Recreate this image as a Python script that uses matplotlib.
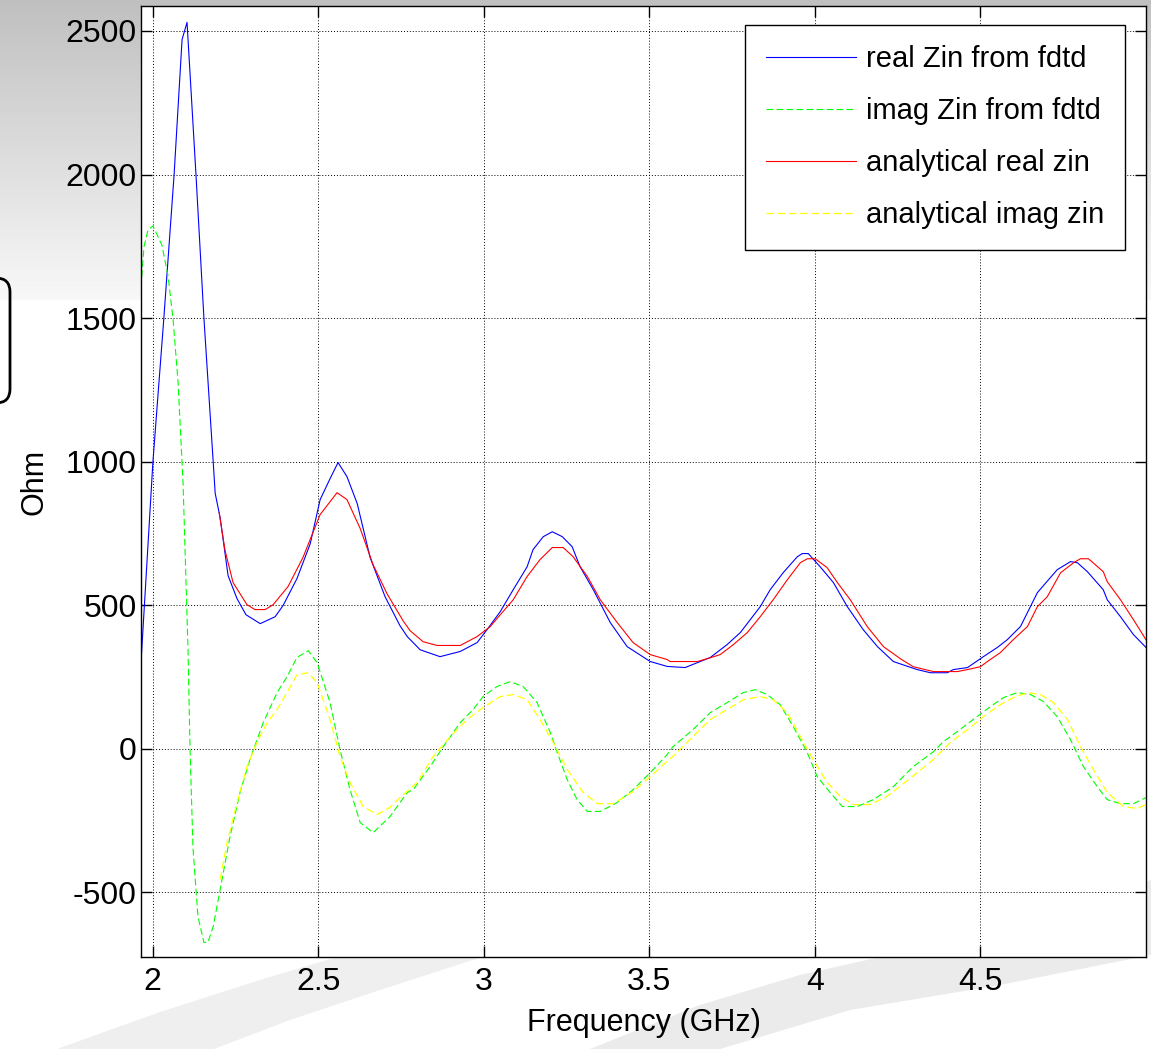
import numpy as np
import matplotlib
matplotlib.use("Agg")
import matplotlib.pyplot as plt
from matplotlib import font_manager
from matplotlib.patches import Polygon, FancyBboxPatch

# --- data (GHz, Ohm) ---
f_real_fdtd = [1.965, 2.001, 2.034, 2.065, 2.089, 2.104, 2.131, 2.155, 2.183, 2.189,
               2.204, 2.228, 2.255, 2.282, 2.325, 2.370, 2.394, 2.436, 2.476, 2.506,
               2.536, 2.560, 2.587, 2.618, 2.657, 2.702, 2.747, 2.769, 2.808, 2.868,
               2.929, 2.980, 3.010, 3.050, 3.089, 3.131, 3.149, 3.180, 3.207, 3.237,
               3.267, 3.291, 3.331, 3.382, 3.433, 3.503, 3.554, 3.608, 3.645, 3.684,
               3.735, 3.775, 3.805, 3.835, 3.865, 3.904, 3.947, 3.962, 3.980, 4.016,
               4.056, 4.098, 4.146, 4.189, 4.237, 4.309, 4.349, 4.400, 4.418, 4.461,
               4.509, 4.551, 4.581, 4.621, 4.672, 4.732, 4.772, 4.793, 4.823, 4.871,
               4.883, 4.923, 4.962, 5.000]
real_fdtd = [300, 1000, 1500, 2000, 2470, 2530, 2000, 1500, 1000, 890,
             805, 603, 523, 467, 436, 460, 499, 593, 714, 868,
             941, 997, 948, 854, 666, 530, 429, 391, 345, 321,
             339, 370, 415, 478, 554, 634, 694, 739, 756, 739,
             704, 634, 554, 440, 356, 304, 287, 283, 300, 318,
             363, 405, 450, 495, 554, 613, 669, 680, 680, 634,
             579, 495, 415, 356, 304, 276, 265, 265, 276, 283,
             321, 353, 380, 426, 544, 624, 652, 648, 617, 554,
             519, 460, 398, 353]

f_imag_fdtd = [1.965, 1.974, 1.986, 2.001, 2.028, 2.047, 2.062, 2.077, 2.092, 2.098,
               2.107, 2.113, 2.122, 2.137, 2.155, 2.167, 2.183, 2.204, 2.234, 2.264,
               2.294, 2.334, 2.376, 2.406, 2.436, 2.470, 2.497, 2.536, 2.566, 2.596,
               2.627, 2.666, 2.717, 2.769, 2.787, 2.838, 2.878, 2.929, 2.968, 2.998,
               3.040, 3.080, 3.119, 3.161, 3.201, 3.222, 3.252, 3.282, 3.313, 3.352,
               3.403, 3.451, 3.503, 3.554, 3.572, 3.632, 3.684, 3.735, 3.784, 3.820,
               3.856, 3.895, 3.935, 3.977, 4.007, 4.046, 4.083, 4.128, 4.176, 4.237,
               4.258, 4.297, 4.358, 4.388, 4.430, 4.478, 4.530, 4.569, 4.611, 4.651,
               4.690, 4.732, 4.772, 4.811, 4.853, 4.883, 4.923, 4.962, 5.000]
imag_fdtd = [1609, 1748, 1807, 1821, 1755, 1644, 1494, 1275, 927, 694,
             345, 2, -346, -584, -674, -674, -619, -490, -305, -152,
             -37, 91, 196, 251, 318, 342, 300, 161, -3, -142,
             -257, -292, -236, -152, -142, -62, 8, 91, 137, 182,
             217, 234, 217, 161, 57, -13, -107, -177, -218, -218,
             -187, -142, -83, -20, 8, 67, 126, 161, 196, 206,
             189, 154, 77, -13, -97, -152, -201, -201, -177, -132,
             -107, -62, -10, 25, 60, 102, 147, 178, 196, 189,
             165, 112, 32, -62, -132, -177, -191, -191, -170]

f_real_an = [2.201, 2.219, 2.243, 2.285, 2.309, 2.340, 2.364, 2.409, 2.454, 2.506,
             2.557, 2.587, 2.627, 2.666, 2.708, 2.757, 2.778, 2.817, 2.859, 2.929,
             2.980, 3.019, 3.050, 3.089, 3.131, 3.170, 3.207, 3.240, 3.270, 3.313,
             3.352, 3.403, 3.451, 3.503, 3.554, 3.563, 3.645, 3.675, 3.714, 3.754,
             3.796, 3.835, 3.874, 3.917, 3.956, 3.977, 4.001, 4.037, 4.068, 4.107,
             4.158, 4.207, 4.258, 4.297, 4.358, 4.430, 4.461, 4.500, 4.521, 4.560,
             4.599, 4.642, 4.672, 4.702, 4.742, 4.781, 4.802, 4.826, 4.871, 4.883,
             4.923, 4.962, 5.000]
real_an = [822, 690, 579, 502, 485, 485, 502, 565, 666, 816,
           892, 868, 767, 641, 540, 445, 411, 373, 360, 360,
           391, 425, 467, 519, 600, 659, 701, 701, 669, 600,
           519, 440, 370, 328, 311, 304, 304, 314, 328, 363,
           405, 460, 519, 589, 648, 662, 662, 631, 579, 519,
           426, 356, 314, 286, 269, 269, 276, 286, 304, 335,
           380, 426, 495, 530, 613, 648, 662, 662, 617, 582,
           519, 450, 380]

f_imag_an = [2.204, 2.225, 2.255, 2.285, 2.315, 2.346, 2.376, 2.406, 2.436, 2.470,
             2.497, 2.536, 2.566, 2.596, 2.636, 2.678, 2.717, 2.747, 2.799, 2.847,
             2.899, 2.950, 2.998, 3.050, 3.089, 3.131, 3.170, 3.210, 3.252, 3.300,
             3.343, 3.391, 3.451, 3.503, 3.533, 3.584, 3.632, 3.684, 3.735, 3.784,
             3.835, 3.874, 3.917, 3.956, 3.995, 4.037, 4.077, 4.116, 4.167, 4.217,
             4.258, 4.309, 4.358, 4.409, 4.461, 4.509, 4.560, 4.599, 4.642, 4.681,
             4.721, 4.763, 4.802, 4.841, 4.883, 4.932, 4.974, 5.000]
imag_an = [-455, -326, -187, -62, 22, 91, 137, 196, 258, 265,
           230, 102, -27, -117, -201, -229, -204, -170, -117, -27,
           43, 102, 144, 182, 189, 171, 102, 22, -72, -152,
           -191, -191, -149, -97, -65, -13, 43, 102, 137, 171,
           182, 171, 126, 43, -37, -117, -166, -194, -194, -166,
           -130, -83, -37, 22, 67, 112, 154, 178, 196, 189,
           161, 102, 8, -72, -152, -201, -208, -194]

x_ticks = [2, 2.5, 3, 3.5, 4, 4.5]
x_tick_labels = ["2", "2.5", "3", "3.5", "4", "4.5"]
y_ticks = [-500, 0, 500, 1000, 1500, 2000, 2500]

names = {f.name for f in font_manager.fontManager.ttflist}
fam = "Liberation Sans Narrow" if "Liberation Sans Narrow" in names else "Liberation Sans"
plt.rcParams["font.family"] = [fam, "DejaVu Sans"]
plt.rcParams["axes.unicode_minus"] = False

W, H = 1151, 1049
fig = plt.figure(figsize=(W / 100, H / 100), dpi=100)
fig.patch.set_facecolor("white")

# decorative slide background (gray gradient at top, light swooshes at bottom)
bg = fig.add_axes([0, 0, 1, 1], zorder=-10)
bg.set_xlim(0, W)
bg.set_ylim(H, 0)
bg.axis("off")
grad = np.linspace(0.75, 0.97, 300).reshape(-1, 1)
bg.imshow(np.repeat(grad, 2, axis=1), cmap="gray", vmin=0, vmax=1,
          extent=(0, W, 300, 0), aspect="auto")
bg.add_patch(Polygon([(57, 1049), (160, 1012), (260, 980), (337, 957), (482, 957),
                      (380, 990), (290, 1020), (214, 1049)],
                     closed=True, fc="#efefef", ec="none"))
bg.add_patch(Polygon([(590, 1049), (700, 1005), (800, 975), (880, 957), (1000, 935),
                      (1151, 880), (1151, 955), (1000, 985), (850, 1010), (720, 1049)],
                     closed=True, fc="#ebebeb", ec="none"))
bg.add_patch(FancyBboxPatch((-40, 278), 50, 125, boxstyle="round,pad=0,rounding_size=14",
                            fc="none", ec="black", lw=2))

ax = fig.add_axes([141 / W, 1 - 957 / H, (1146 - 141) / W, (957 - 6) / H])
ax.set_facecolor("white")

ax.plot(f_real_fdtd, real_fdtd, color="#0000ff", lw=0.8, label="real Zin from fdtd")
ax.plot(f_imag_fdtd, imag_fdtd, color="#00ff00", lw=0.8, dashes=(6, 3), label="imag Zin from fdtd")
ax.plot(f_real_an, real_an, color="#ff0000", lw=0.8, label="analytical real zin")
ax.plot(f_imag_an, imag_an, color="#ffff00", lw=0.9, dashes=(6, 3), label="analytical imag zin")

ax.set_xlim(1.965, 5.0)
ax.set_ylim(-725, 2587)
ax.set_xticks(x_ticks)
ax.set_xticklabels(x_tick_labels)
ax.set_yticks(y_ticks)
ax.grid(True, color="black", linestyle=(0, (1, 2)), lw=0.7)
ax.tick_params(direction="in", length=8, width=1, top=True, right=True,
               labelsize=23, pad=7)
ax.tick_params(axis="y", pad=3)
for s in ax.spines.values():
    s.set_linewidth(1.0)

ax.set_xlabel("Frequency (GHz)", fontsize=22, labelpad=8)
ax.set_ylabel("Ohm", fontsize=22, labelpad=12)

leg = ax.legend(loc="upper right", bbox_to_anchor=(1125 / W, 1 - 25 / H),
                bbox_transform=fig.transFigure, borderaxespad=0, fontsize=21,
                fancybox=False, framealpha=1, edgecolor="black",
                handlelength=3.1, handletextpad=0.35, labelspacing=0.82,
                borderpad=0.7)
leg.get_frame().set_linewidth(1.0)

plt.savefig("out.png", dpi=100)
